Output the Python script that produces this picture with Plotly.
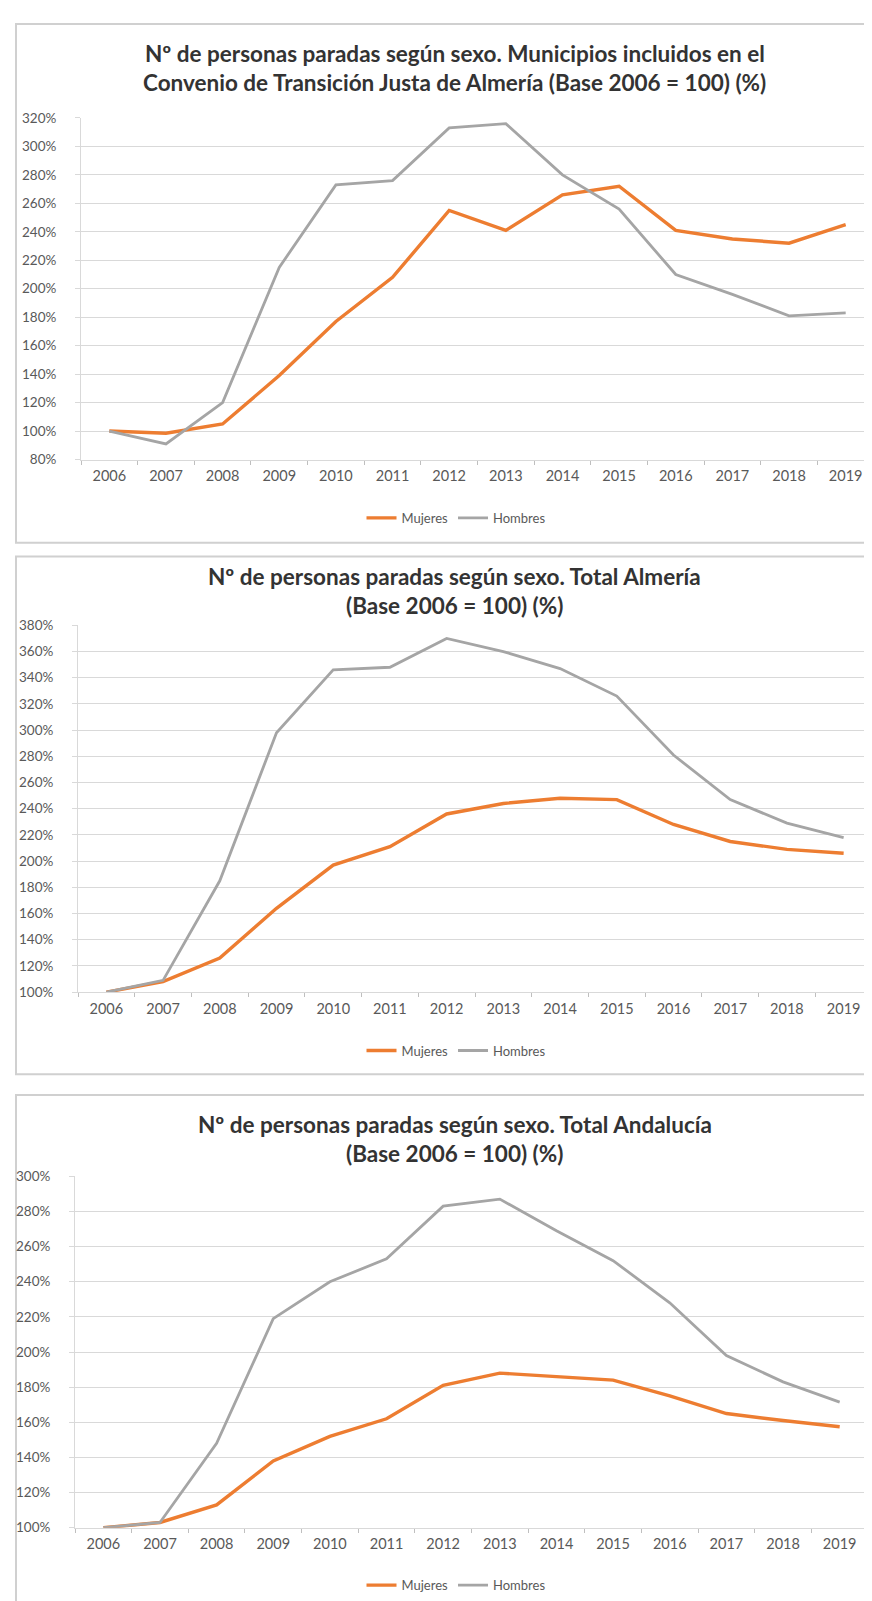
import plotly.graph_objects as go

# ---------------- data ----------------
years = [str(y) for y in range(2006, 2020)]

# Panel 1: Municipios incluidos en el Convenio de Transición Justa de Almería
muni_mujeres = [100, 98.5, 105, 139, 177, 208, 255, 241, 266, 272, 241, 235, 232, 245]
muni_hombres = [100, 91, 120, 215, 273, 276, 313, 316, 280, 256, 210, 196, 181, 183]

# Panel 2: Total Almería
alm_mujeres = [100, 108, 126, 164, 197, 211, 236, 244, 248, 247, 228, 215, 209, 206]
alm_hombres = [100, 109, 185, 298, 346, 348, 370, 360, 347, 326, 281, 247, 229, 218]

# Panel 3: Total Andalucía
and_mujeres = [100, 103, 113, 138, 152, 162, 181, 188, 186, 184, 175, 165, 161, 157.5]
and_hombres = [100, 103, 148, 219, 240, 253, 283, 287, 269, 252, 228, 198, 183, 171.5]

titles = [
    ["Nº de personas paradas según sexo. Municipios incluidos en el",
     "Convenio de Transición Justa de Almería (Base 2006 = 100) (%)"],
    ["Nº de personas paradas según sexo. Total Almería",
     "(Base 2006 = 100) (%)"],
    ["Nº de personas paradas según sexo. Total Andalucía",
     "(Base 2006 = 100) (%)"],
]
y_ranges = [[80, 320], [100, 380], [100, 300]]
series_names = ["Mujeres", "Hombres"]

# ---------------- layout helpers (pixels) ----------------
W, H = 872, 1601
ORANGE = "#ED7D31"
GREY = "#A5A5A5"
GRID = "#D9D9D9"
TXT = "#595959"
FONT = "Lato, 'Open Sans', sans-serif"

def fx(x):
    return x / W

def fy(y):
    return 1 - y / H

panels = [
    dict(muj=muni_mujeres, hom=muni_hombres, x0=73, x1=866, y0=103, y1=448,
         leg=507, box=(8, 532), t=(38, 67)),
    dict(muj=alm_mujeres, hom=alm_hombres, x0=70, x1=864, y0=615.5, y1=986,
         leg=1045, box=(546, 1069), t=(566, 595)),
    dict(muj=and_mujeres, hom=and_hombres, x0=67, x1=860, y0=1172, y1=1527,
         leg=1585, box=(1090, 1700), t=(1120, 1149)),
]

fig = go.Figure()
annotations = []
shapes = []
layout = {}

for i, p in enumerate(panels):
    n = "" if i == 0 else str(i + 1)
    leg = "legend" if i == 0 else f"legend{i + 1}"
    fig.add_trace(go.Scatter(
        x=years, y=p["muj"], name=series_names[0], mode="lines",
        line=dict(color=ORANGE, width=3.4), xaxis=f"x{n}", yaxis=f"y{n}",
        legend=leg))
    fig.add_trace(go.Scatter(
        x=years, y=p["hom"], name=series_names[1], mode="lines",
        line=dict(color=GREY, width=2.8), xaxis=f"x{n}", yaxis=f"y{n}",
        legend=leg))

    layout[f"xaxis{n}"] = dict(
        domain=[fx(p["x0"]), fx(p["x1"])], anchor=f"y{n}", type="category",
        range=[-0.5, 13.5], showgrid=False, showline=True, linecolor=GRID,
        linewidth=1, ticks="outside", tickson="boundaries", ticklen=4,
        tickcolor="#BFBFBF", tickfont=dict(family=FONT, size=14.5, color=TXT),
        ticklabelstandoff=3, fixedrange=True)
    layout[f"yaxis{n}"] = dict(
        domain=[fy(p["y1"]), fy(p["y0"])], anchor=f"x{n}",
        range=y_ranges[i], dtick=20, ticksuffix="%", showgrid=True,
        gridcolor=GRID, gridwidth=1, showline=True, linecolor=GRID,
        ticks="outside", ticklen=5, tickcolor=GRID, zeroline=False,
        tickfont=dict(family=FONT, size=13.5, color=TXT), ticklabelstandoff=16,
        fixedrange=True)
    layout[leg] = dict(
        x=fx(448), y=fy(p["leg"]), xanchor="center", yanchor="middle",
        orientation="h", font=dict(family=FONT, size=13, color=TXT),
        bgcolor="rgba(0,0,0,0)", itemwidth=30, tracegroupgap=0)

    for j, line in enumerate(titles[i]):
        annotations.append(dict(
            text=f"<b>{line}</b>", xref="paper", yref="paper",
            x=fx(447), y=fy(p["t"][j]), xanchor="center", yanchor="middle",
            showarrow=False, font=dict(family=FONT, size=22.5, color="#333333")))

    shapes.append(dict(
        type="rect", xref="paper", yref="paper",
        x0=fx(8), x1=fx(880), y0=fy(p["box"][1]), y1=fy(p["box"][0]),
        line=dict(color="#D0D0D0", width=2), fillcolor="rgba(0,0,0,0)",
        layer="below"))

fig.update_layout(
    width=W, height=H, margin=dict(l=0, r=0, t=0, b=0),
    paper_bgcolor="white", plot_bgcolor="white",
    annotations=annotations, shapes=shapes, showlegend=True,
    **layout)

fig.write_html("out.html")
